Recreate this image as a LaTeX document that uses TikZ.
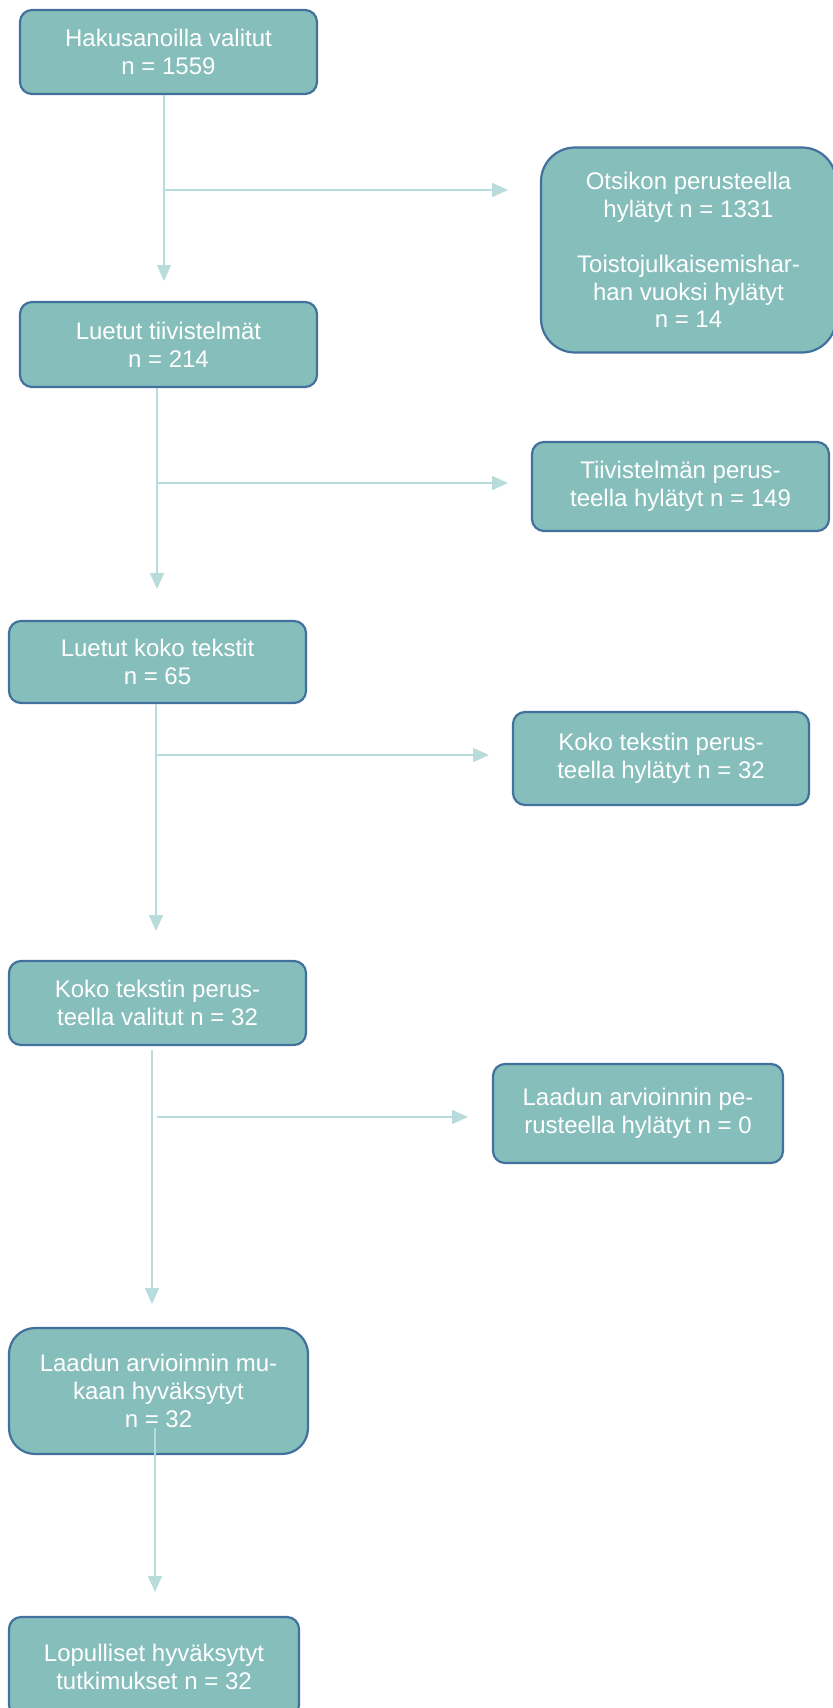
\documentclass[tikz,border=0pt]{standalone}
\usepackage{fontspec}
\setmainfont{Liberation Sans}
\usetikzlibrary{arrows.meta}
\definecolor{boxfill}{RGB}{134,190,187}
\definecolor{boxline}{RGB}{65,113,156}
\definecolor{conncol}{RGB}{184,220,220}
\tikzset{
  flowbox/.style={draw=boxline, line width=1.1pt, fill=boxfill, rounded corners=6pt,
    text=white, align=center, inner sep=0pt,
    font=\fontsize{12pt}{13.8pt}\selectfont},
  bigbox/.style={flowbox, rounded corners=17pt},
  conn/.style={draw=conncol, line width=0.8pt,
    -{Triangle[length=8pt,width=7pt,fill=conncol]}}
}
\begin{document}
\begin{tikzpicture}[x=0.5pt,y=-0.5pt]
\useasboundingbox (0,0) rectangle (833,1708);
% left column
\node[flowbox, minimum width=148.5pt, minimum height=42pt] (b1) at (168.5,52) {Hakusanoilla valitut\\n = 1559};
\node[flowbox, minimum width=148.5pt, minimum height=42.5pt] (b2) at (168.5,344.5) {Luetut tiivistelmät\\n = 214};
\node[flowbox, minimum width=148.5pt, minimum height=41pt] (b3) at (157.5,662) {Luetut koko tekstit\\n = 65};
\node[flowbox, minimum width=148.5pt, minimum height=42pt] (b4) at (157.5,1003) {Koko tekstin perus-\\teella valitut n = 32};
\node[flowbox, rounded corners=13pt, minimum width=149.5pt, minimum height=63pt] (b5) at (158.5,1391) {Laadun arvioinnin mu-\\kaan hyväksytyt\\n = 32};
\node[flowbox, minimum width=145pt, minimum height=50pt] (b6) at (154,1667) {Lopulliset hyväksytyt\\tutkimukset n = 32};
% right column
\node[bigbox, minimum width=147.5pt, minimum height=102.5pt] (o1) at (688.5,250) {Otsikon perusteella\\hylätyt n = 1331\\[13.8pt]Toistojulkaisemishar-\\han vuoksi hylätyt\\n = 14};
\node[flowbox, minimum width=148.5pt, minimum height=44.5pt] (o2) at (680.5,486.5) {Tiivistelmän perus-\\teella hylätyt n = 149};
\node[flowbox, minimum width=148pt, minimum height=46.5pt] (o3) at (661,758.5) {Koko tekstin perus-\\teella hylätyt n = 32};
\node[flowbox, minimum width=145pt, minimum height=49.5pt] (o4) at (638,1113.5) {Laadun arvioinnin pe-\\rusteella hylätyt n = 0};
% branch points and arrow tips
\coordinate (v1) at (164,190);
\coordinate (t1) at (164,281);
\coordinate (r1) at (508,190);
\coordinate (v2) at (157,483);
\coordinate (t2) at (157,589);
\coordinate (r2) at (508,483);
\coordinate (v3) at (156,755);
\coordinate (t3) at (156,931);
\coordinate (r3) at (489,755);
\coordinate (s4) at (152,1050);
\coordinate (t4) at (152,1304);
\coordinate (h4) at (157,1117);
\coordinate (r4) at (468,1117);
\coordinate (s5) at (155,1428);
\coordinate (t5) at (155,1592);
% connectors
\draw[conn] (b1.south -| v1) -- (t1);
\draw[conn] (v1) -- (r1);
\draw[conn] (b2.south -| v2) -- (t2);
\draw[conn] (v2) -- (r2);
\draw[conn] (b3.south -| v3) -- (t3);
\draw[conn] (v3) -- (r3);
\draw[conn] (s4) -- (t4);
\draw[conn] (h4) -- (r4);
\draw[conn] (s5) -- (t5);
\end{tikzpicture}
\end{document}
